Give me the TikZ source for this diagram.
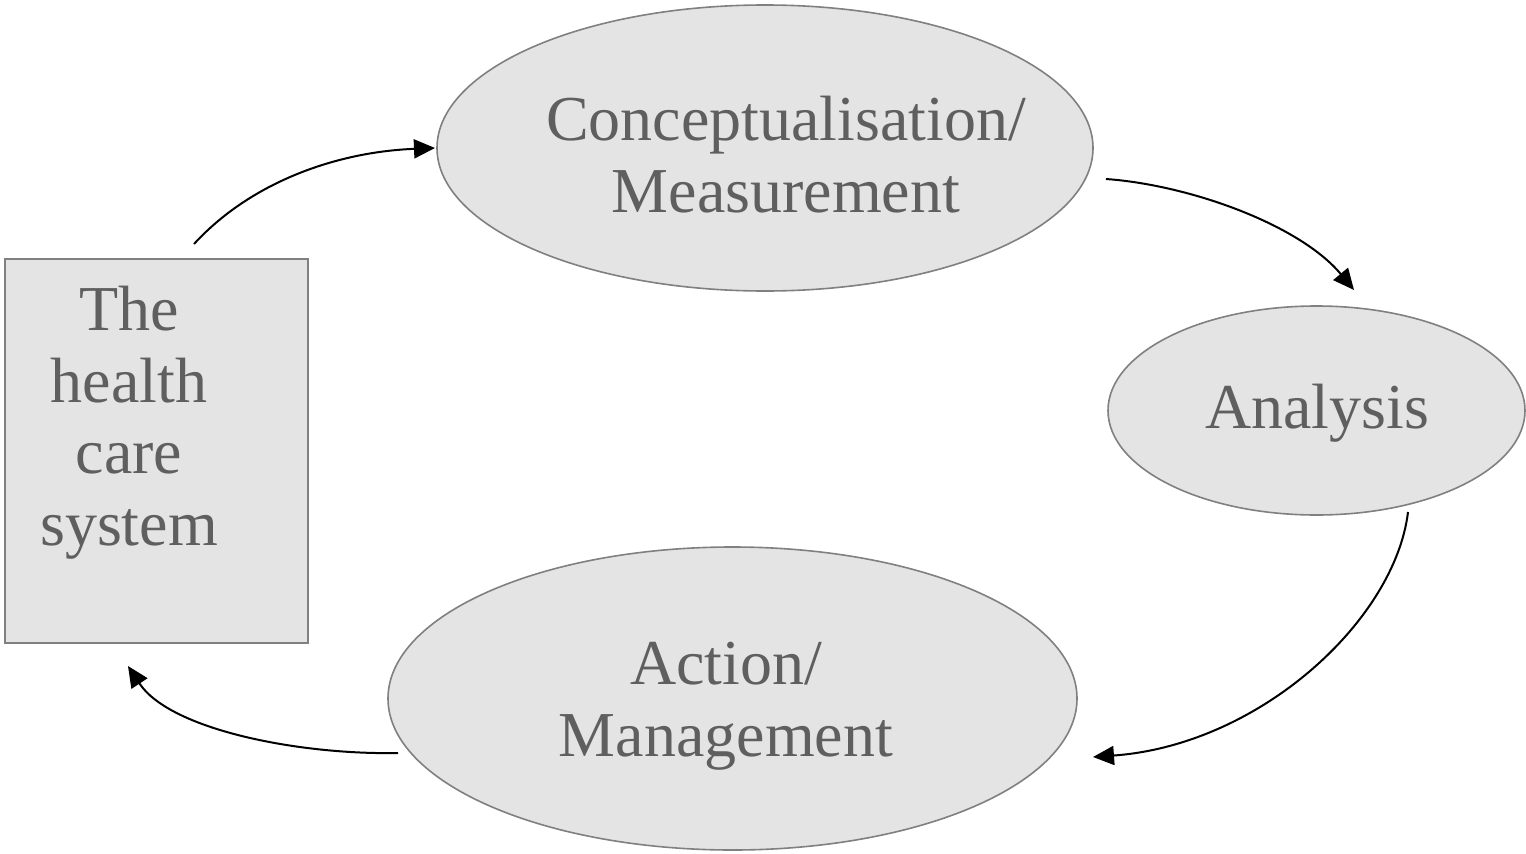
\documentclass[tikz,border=0pt]{standalone}
\usepackage{fontspec}
\setmainfont{Liberation Serif}
\usetikzlibrary{arrows.meta,shapes.geometric}
\definecolor{shapefill}{HTML}{E4E4E4}
\definecolor{shapeline}{HTML}{808080}
\definecolor{txt}{HTML}{5F5F5F}
\tikzset{
  blob/.style={ellipse, draw=shapeline, fill=shapefill, line width=1.6pt, inner sep=0pt},
  boxshape/.style={rectangle, draw=shapeline, fill=shapefill, line width=1.6pt, inner sep=0pt},
  lbl/.style={text=txt, font=\fontsize{64}{71.5}\selectfont, align=center, anchor=base, inner sep=0pt},
  flow/.style={line width=2pt, -{Triangle[length=21pt,width=19pt]}}
}
\begin{document}
\begin{tikzpicture}[x=1pt,y=-1pt]
\useasboundingbox (0,0) rectangle (1526,854);
% shapes
\node[boxshape, minimum width=303pt, minimum height=384pt] (sys) at (156.5,451) {};
\node[blob, minimum width=656pt, minimum height=286pt] (concept) at (765,148) {};
\node[blob, minimum width=417pt, minimum height=209pt] (analysis) at (1316.5,410.5) {};
\node[blob, minimum width=689pt, minimum height=303pt] (action) at (732.5,698.5) {};
% texts (anchor=base is the baseline of the last line)
\node[lbl] (tsys) at (129,545) {The\\health\\care\\system};
\node[lbl] (tconcept) at (786,212) {Conceptualisation/\\Measurement};
\node[lbl] (tanalysis) at (1317,428) {Analysis};
\node[lbl] (taction) at (726,756) {Action/\\Management};
% connector end points
\coordinate (s1) at (194,244);
\coordinate (e1) at (435,148);
\coordinate (s2) at (1106,179);
\coordinate (e2) at (1354,290);
\coordinate (s3) at (1408,512);
\coordinate (e3) at (1093,757);
\coordinate (s4) at (398,753);
\coordinate (e4) at (128,666);
\draw[flow] (s1) .. controls (250,183) and (335,152) .. (e1);
\draw[flow] (s2) .. controls (1190,185) and (1300,225) .. (e2);
\draw[flow] (s3) .. controls (1395,620) and (1260,745) .. (e3);
\draw[flow] (s4) .. controls (300,755) and (170,730) .. (e4);
\end{tikzpicture}
\end{document}
